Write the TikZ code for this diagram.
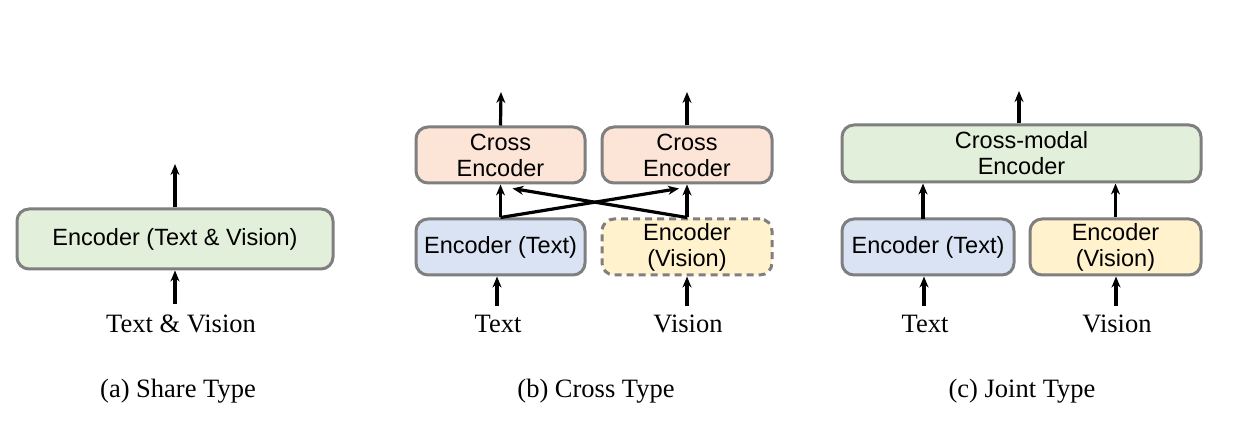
\documentclass[tikz,border=0pt]{standalone}
\usepackage{fontspec}
\setmainfont{Liberation Serif}
\setsansfont{Liberation Sans}
\usetikzlibrary{arrows.meta}
\definecolor{bordergray}{HTML}{7F7F7F}
\definecolor{encgreen}{HTML}{E2EFDA}
\definecolor{encpeach}{HTML}{FCE4D6}
\definecolor{encblue}{HTML}{DAE3F3}
\definecolor{encyellow}{HTML}{FFF2CC}
\tikzset{
  box/.style={draw=bordergray, line width=3pt, rounded corners=12pt,
    inner sep=0pt, align=center,
    font=\sffamily\fontsize{23.5}{26}\selectfont},
  dashbox/.style={box, dash pattern=on 7pt off 5pt},
  lbl/.style={inner sep=0pt, font=\rmfamily\fontsize{26.5}{28}\selectfont},
  arr/.style={line width=3.2pt, -{Stealth[length=11pt,width=9pt]}},
}
\begin{document}
\begin{tikzpicture}[x=1pt,y=-1pt]
\useasboundingbox (0,0) rectangle (1238,435);
\fill[white] (0,0) rectangle (1238,435);

% (a) Share type
\node[box, fill=encgreen, minimum width=316pt, minimum height=60pt] (a) at (175,239) {Encoder (Text \& Vision)};
\node[lbl] (la) at (181,324) {Text \& Vision};
\node[lbl] (capa) at (178,391) {(a) Share Type};
\coordinate (ina) at (175,304);
\coordinate (outa) at (175,164);
\draw[arr] (ina) -- (a.south);
\draw[arr] (a.north) -- (outa);

% (b) Cross type
\node[box, fill=encpeach, minimum width=169pt, minimum height=56pt] (ceL) at (500.5,155) {Cross\\Encoder};
\node[box, fill=encpeach, minimum width=170pt, minimum height=56pt] (ceR) at (687,155) {Cross\\Encoder};
\node[box, fill=encblue, minimum width=169pt, minimum height=56pt] (etL) at (500.5,247) {Encoder (Text)};
\node[dashbox, fill=encyellow, minimum width=170pt, minimum height=56pt] (evR) at (687,247) {Encoder\\(Vision)};
\node[lbl] (ltb) at (498,324) {Text};
\node[lbl] (lvb) at (688,324) {Vision};
\node[lbl] (capb) at (596,391) {(b) Cross Type};
\coordinate (intb) at (497,306);
\coordinate (invb) at (687,306);
\coordinate (outbL) at (501,92);
\coordinate (outbR) at (687,92);
\draw[arr] (intb) -- (intb |- etL.south);
\draw[arr] (invb) -- (evR.south);
\draw[arr] (etL.north) -- (ceL.south);
\draw[arr] (evR.north) -- (ceR.south);
\draw[arr] (etL.north) -- ([xshift=-8pt,yshift=-4pt]ceR.south);
\draw[arr] (evR.north) -- ([xshift=12pt,yshift=-4pt]ceL.south);
\draw[arr] (ceL.north) -- (outbL);
\draw[arr] (ceR.north) -- (outbR);

% (c) Joint type
\node[box, fill=encgreen, minimum width=359pt, minimum height=57pt] (cm) at (1021.5,153.5) {Cross-modal\\Encoder};
\node[box, fill=encblue, minimum width=172pt, minimum height=56pt] (etC) at (928,247) {Encoder (Text)};
\node[box, fill=encyellow, minimum width=171pt, minimum height=56pt] (evC) at (1115.5,247) {Encoder\\(Vision)};
\node[lbl] (ltc) at (925,324) {Text};
\node[lbl] (lvc) at (1117,324) {Vision};
\node[lbl] (capc) at (1022,391) {(c) Joint Type};
\coordinate (intc) at (924,306);
\coordinate (invc) at (1116,306);
\coordinate (midtc) at (923,219);
\coordinate (outc) at (1019,91);
\draw[arr] (intc) -- (intc |- etC.south);
\draw[arr] (invc) -- (invc |- evC.south);
\draw[arr] (midtc) -- (midtc |- cm.south);
\draw[arr] (evC.north) -- (evC.north |- cm.south);
\draw[arr] (outc |- cm.north) -- (outc);
\end{tikzpicture}
\end{document}
